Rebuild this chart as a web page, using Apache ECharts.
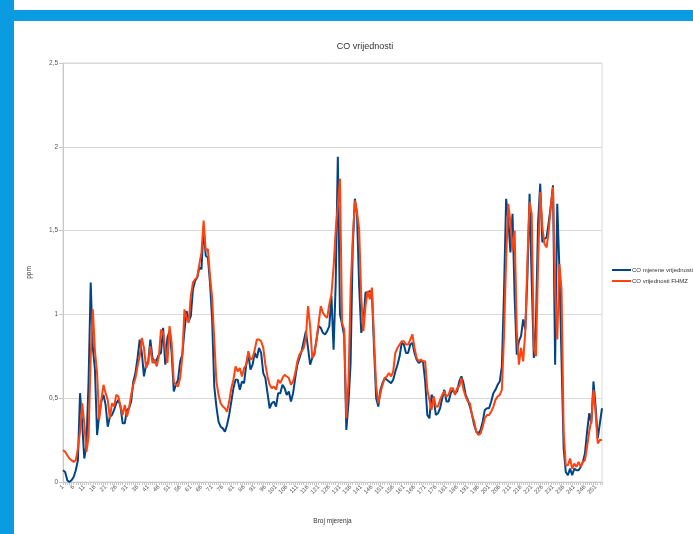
<!DOCTYPE html>
<html>
<head>
<meta charset="utf-8">
<script src="https://cdn.jsdelivr.net/npm/echarts@6/dist/echarts.min.js"></script>
<style>
html,body{margin:0;padding:0;background:#fff;}
#c{width:693px;height:534px;}
</style>
</head>
<body>
<div id="c"></div>
<script>
const title = "CO vrijednosti";
const seriesNames = ["CO mjerene vrijednosti", "CO vrijednosti FHMZ"];
const xName = "Broj mjerenja";
const yName = "ppm";
const yTicks = [0, 0.5, 1, 1.5, 2, 2.5];

const measured = [
0.07,0.06,0.01,0.00,0.01,0.03,0.07,0.13,0.53,0.35,
0.14,0.22,0.60,1.19,0.80,0.67,0.28,0.40,0.48,0.52,
0.46,0.33,0.39,0.40,0.43,0.47,0.49,0.45,0.35,0.35,
0.43,0.44,0.48,0.60,0.65,0.74,0.85,0.77,0.63,0.70,
0.72,0.85,0.74,0.71,0.73,0.76,0.77,0.92,0.70,0.86,
0.90,0.77,0.54,0.58,0.61,0.72,0.76,0.90,1.02,0.96,
0.99,1.15,1.20,1.22,1.28,1.27,1.52,1.35,1.34,1.19,
0.97,0.57,0.45,0.36,0.33,0.32,0.30,0.34,0.40,0.48,
0.56,0.61,0.61,0.55,0.60,0.59,0.70,0.76,0.67,0.70,
0.77,0.74,0.80,0.77,0.65,0.62,0.53,0.44,0.47,0.48,
0.45,0.53,0.53,0.58,0.56,0.52,0.54,0.48,0.53,0.62,
0.70,0.74,0.78,0.84,0.90,0.80,0.70,0.74,0.77,0.85,
0.93,0.92,0.89,0.88,0.90,0.93,1.11,0.79,1.18,1.94,
1.00,0.94,0.87,0.31,0.47,0.71,1.40,1.69,1.60,1.17,
0.89,0.95,1.13,1.13,1.14,1.13,0.80,0.50,0.45,0.55,
0.59,0.62,0.61,0.60,0.59,0.61,0.66,0.70,0.75,0.83,
0.82,0.77,0.77,0.82,0.83,0.77,0.73,0.71,0.72,0.72,
0.60,0.40,0.38,0.52,0.50,0.40,0.41,0.44,0.50,0.55,
0.48,0.48,0.53,0.55,0.53,0.54,0.60,0.63,0.59,0.52,
0.49,0.45,0.40,0.34,0.30,0.29,0.31,0.36,0.43,0.44,
0.44,0.48,0.53,0.55,0.58,0.60,0.69,1.13,1.69,1.57,
1.37,1.60,1.10,0.76,0.84,0.87,0.97,0.91,1.23,1.72,
1.20,0.74,0.95,1.55,1.78,1.43,1.45,1.46,1.55,1.65,
1.77,0.70,1.66,1.27,0.73,0.20,0.06,0.04,0.08,0.04,
0.08,0.07,0.07,0.09,0.12,0.17,0.30,0.41,0.35,0.60,
0.45,0.26,0.35,0.44
];

const fhmz = [
0.19,0.18,0.16,0.14,0.13,0.12,0.13,0.20,0.30,0.47,
0.35,0.18,0.27,0.75,1.03,0.78,0.65,0.37,0.49,0.58,
0.53,0.49,0.38,0.47,0.45,0.52,0.51,0.45,0.40,0.46,
0.39,0.44,0.52,0.58,0.62,0.69,0.75,0.86,0.80,0.68,
0.71,0.81,0.71,0.73,0.69,0.75,0.91,0.89,0.80,0.71,
0.93,0.83,0.60,0.58,0.57,0.62,0.75,1.03,0.98,0.95,
1.11,1.19,1.21,1.22,1.30,1.37,1.56,1.38,1.39,1.23,
1.10,0.85,0.60,0.52,0.47,0.45,0.44,0.42,0.48,0.56,
0.61,0.69,0.66,0.68,0.63,0.68,0.70,0.78,0.73,0.74,
0.79,0.85,0.85,0.84,0.80,0.70,0.63,0.58,0.56,0.57,
0.55,0.61,0.59,0.62,0.64,0.63,0.62,0.58,0.60,0.65,
0.72,0.76,0.78,0.80,0.86,1.05,0.93,0.74,0.76,0.85,
0.95,1.05,1.01,0.99,0.98,1.06,1.12,1.28,1.50,1.65,
1.81,0.95,0.91,0.38,0.60,1.15,1.45,1.68,1.61,1.51,
1.10,0.90,1.05,1.14,1.09,1.16,0.85,0.57,0.47,0.53,
0.58,0.62,0.63,0.65,0.63,0.66,0.77,0.80,0.82,0.84,
0.84,0.82,0.82,0.85,0.88,0.80,0.74,0.72,0.73,0.72,
0.72,0.55,0.49,0.43,0.51,0.45,0.45,0.49,0.52,0.54,
0.51,0.52,0.56,0.56,0.52,0.56,0.57,0.62,0.55,0.51,
0.48,0.47,0.40,0.36,0.30,0.28,0.29,0.33,0.38,0.40,
0.40,0.42,0.45,0.49,0.51,0.52,0.55,0.87,1.33,1.66,
1.55,1.38,1.50,0.90,0.70,0.80,0.72,0.90,1.33,1.67,
1.60,0.80,0.75,1.30,1.73,1.52,1.42,1.40,1.50,1.65,
1.76,1.15,0.85,1.30,1.15,0.30,0.10,0.10,0.14,0.08,
0.11,0.09,0.12,0.09,0.12,0.13,0.21,0.30,0.37,0.55,
0.41,0.23,0.25,0.25
];

const categories = measured.map((_, i) => String(i + 1));

const chart = echarts.init(document.getElementById('c'), null, {renderer: 'canvas'});
const fmt = v => String(v).replace('.', ',');
chart.setOption({
  backgroundColor: '#ffffff',
  animation: false,
  title: {
    text: title, left: 360, top: 37, textAlign: 'center',
    textStyle: {fontFamily: 'Liberation Sans', fontSize: 9, fontWeight: 'normal', color: '#333'}
  },
  graphic: [
    {type: 'rect', shape: {x: 0, y: 10, width: 693, height: 11}, style: {fill: '#0A9BE0'}, silent: true},
    {type: 'rect', shape: {x: 0, y: 0, width: 14, height: 534}, style: {fill: '#0A9BE0'}, silent: true}
  ],
  legend: {
    orient: 'vertical', left: 612, top: 267, itemGap: 5, padding: 0,
    width: 81,
    itemWidth: 19, itemHeight: 2, icon: 'rect',
    textStyle: {fontFamily: 'Liberation Sans Narrow, Liberation Sans', fontSize: 6, color: '#333',
                overflow: 'none', width: 70, padding: [0,0,0,-4]},
    data: seriesNames
  },
  grid: {left: 63, right: 91, top: 63, bottom: 52, show: true, borderColor: '#d9d9d9', borderWidth: 1},
  xAxis: {
    type: 'category', data: categories, boundaryGap: false,
    name: xName, nameLocation: 'middle', nameGap: 36,
    nameTextStyle: {fontFamily: 'Liberation Sans', fontSize: 6.5, color: '#333'},
    axisLine: {lineStyle: {color: '#c8c8c8'}},
    axisTick: {show: true, interval: 0, length: 3, lineStyle: {color: '#c8c8c8'}},
    axisLabel: {interval: 4, rotate: 45, fontFamily: 'Liberation Sans', fontSize: 6, color: '#555', margin: 4},
    splitLine: {show: false}
  },
  yAxis: {
    type: 'value', min: 0, max: 2.5, interval: 0.5,
    name: yName, nameLocation: 'middle', nameGap: 30, nameRotate: 90,
    nameTextStyle: {fontFamily: 'Liberation Sans', fontSize: 6.5, color: '#333'},
    axisLine: {show: true, lineStyle: {color: '#c8c8c8'}},
    axisTick: {show: true, length: 4, lineStyle: {color: '#c8c8c8'}},
    axisLabel: {formatter: fmt, fontFamily: 'Liberation Sans', fontSize: 6.5, color: '#555', margin: 5},
    splitLine: {lineStyle: {color: '#d9d9d9', width: 1}}
  },
  series: [
    {name: seriesNames[0], type: 'line', data: measured, symbol: 'none',
     lineStyle: {color: '#004586', width: 2}, itemStyle: {color: '#004586'}},
    {name: seriesNames[1], type: 'line', data: fhmz, symbol: 'none',
     lineStyle: {color: '#ff420e', width: 2}, itemStyle: {color: '#ff420e'}}
  ]
});
</script>
</body>
</html>
